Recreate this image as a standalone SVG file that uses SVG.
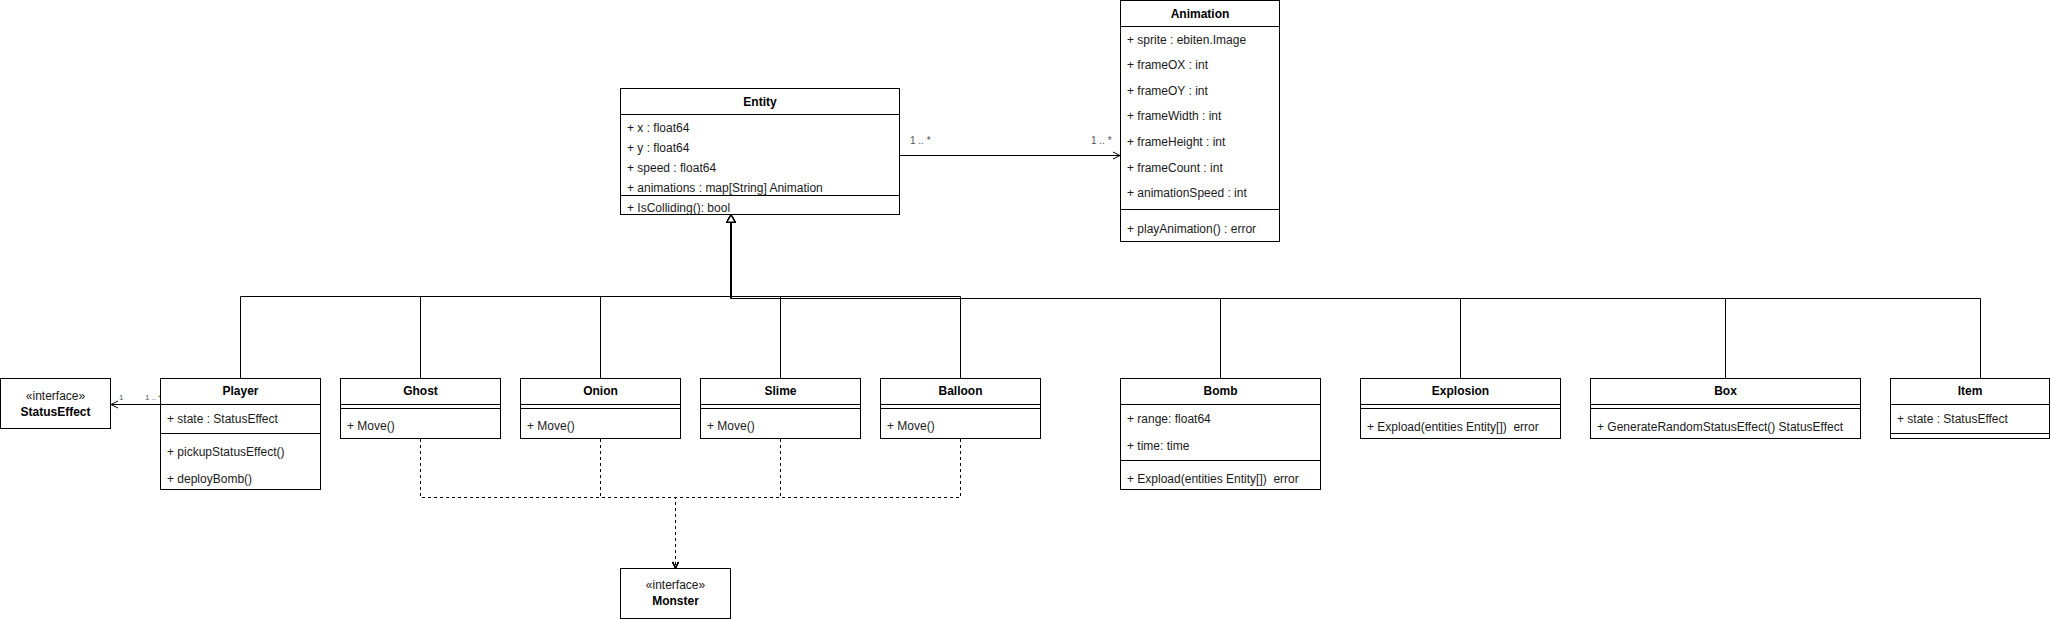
<svg xmlns="http://www.w3.org/2000/svg" width="2051" height="619" viewBox="0 0 2051 619">
<style>
.bg{fill:#fff}
.box{fill:#fff;stroke:#000;stroke-width:1}
.ln{stroke:#000;stroke-width:1;fill:none}
.ttl{font-family:"Liberation Sans",Arial,Helvetica,sans-serif;font-size:12px;font-weight:bold;fill:#000;text-anchor:middle}
.mem{font-family:"Liberation Sans",Arial,Helvetica,sans-serif;font-size:12px;fill:#1a1a1a;white-space:pre}
.st{font-family:"Liberation Sans",Arial,Helvetica,sans-serif;font-size:12px;fill:#1a1a1a;text-anchor:middle}
.lbl{font-family:"Liberation Sans",Arial,Helvetica,sans-serif;font-size:10px;fill:#555}
.lbls{font-family:"Liberation Sans",Arial,Helvetica,sans-serif;font-size:8px;fill:#555}
.edge{stroke:#000;stroke-width:1;fill:none}
.gen{marker-end:url(#gen)}
.dash{stroke-dasharray:3 3;marker-end:url(#real)}
.assoc{marker-end:url(#open)}
</style>
<defs>
<marker id="gen" markerUnits="userSpaceOnUse" viewBox="0 0 9 10" refX="8" refY="5" markerWidth="9" markerHeight="10" orient="auto">
<path d="M1,1 L8,5 L1,9 Z" fill="#fff" stroke="#000" stroke-width="1.2"/>
</marker>
<marker id="open" markerUnits="userSpaceOnUse" viewBox="0 0 9 9" refX="8" refY="4.5" markerWidth="9" markerHeight="9" orient="auto">
<path d="M1,1 L8,4.5 L1,8" fill="none" stroke="#000" stroke-width="1"/>
</marker>
<marker id="real" markerUnits="userSpaceOnUse" viewBox="0 0 8 8" refX="7" refY="4" markerWidth="8" markerHeight="8" orient="auto">
<path d="M1,1 L7,4 L1,7" fill="none" stroke="#000" stroke-width="1.2" stroke-dasharray="none"/>
</marker>
</defs>
<rect class="bg" x="0" y="0" width="2051" height="619"/>

<g id="connectors">
<path class="edge gen" d="M240.5 378 V296.5 H731 V215"/>
<path class="edge gen" d="M420.5 378 V296.5 H731 V215"/>
<path class="edge gen" d="M600.5 378 V296.5 H731 V215"/>
<path class="edge gen" d="M780.5 378 V296.5 H731 V215"/>
<path class="edge gen" d="M960.5 378 V296.5 H731 V215"/>
<path class="edge gen" d="M1220.5 378 V298.5 H731 V215"/>
<path class="edge gen" d="M1460.5 378 V298.5 H731 V215"/>
<path class="edge gen" d="M1725.5 378 V298.5 H731 V215"/>
<path class="edge gen" d="M1980.5 378 V298.5 H731 V215"/>
<path class="edge dash" d="M420.5 439 V497.5 H675.5 V568"/>
<path class="edge dash" d="M600.5 439 V497.5 H675.5 V568"/>
<path class="edge dash" d="M780.5 439 V497.5 H675.5 V568"/>
<path class="edge dash" d="M960.5 439 V497.5 H675.5 V568"/>
<path class="edge assoc" d="M900 155.5 H1120"/>
<text class="lbl" x="910" y="144">1 .. *</text>
<text class="lbl" x="1091" y="144">1 .. *</text>
<path class="edge assoc" d="M160 404.5 H111"/>
<text class="lbls" x="119" y="400">1</text>
<text class="lbls" x="145" y="400">1 .. *</text>
</g>

<g id="entity">
<rect class="box" x="620.5" y="88.5" width="279" height="126"/>
<line class="ln" x1="620.5" y1="114.5" x2="899.5" y2="114.5"/>
<text class="ttl" x="760" y="106">Entity</text>
<text class="mem" x="627" y="132">+ x : float64</text>
<text class="mem" x="627" y="152">+ y : float64</text>
<text class="mem" x="627" y="172">+ speed : float64</text>
<text class="mem" x="627" y="192">+ animations : map[String] Animation</text>
<line class="ln" x1="620.5" y1="195.5" x2="899.5" y2="195.5"/>
<text class="mem" x="627" y="212">+ IsColliding(): bool</text>
</g>

<g id="animation">
<rect class="box" x="1120.5" y="0.5" width="159" height="241"/>
<line class="ln" x1="1120.5" y1="26.5" x2="1279.5" y2="26.5"/>
<text class="ttl" x="1200" y="17.5">Animation</text>
<text class="mem" x="1127" y="44">+ sprite : ebiten.Image</text>
<text class="mem" x="1127" y="69">+ frameOX : int</text>
<text class="mem" x="1127" y="95">+ frameOY : int</text>
<text class="mem" x="1127" y="120">+ frameWidth : int</text>
<text class="mem" x="1127" y="146">+ frameHeight : int</text>
<text class="mem" x="1127" y="172">+ frameCount : int</text>
<text class="mem" x="1127" y="197">+ animationSpeed : int</text>
<line class="ln" x1="1120.5" y1="209.5" x2="1279.5" y2="209.5"/>
<text class="mem" x="1127" y="233">+ playAnimation() : error</text>
</g>

<g id="statuseffect">
<rect class="box" x="0.5" y="378.5" width="110" height="50"/>
<text class="st" x="55.5" y="400">«interface»</text>
<text class="ttl" x="55.5" y="416">StatusEffect</text>
</g>

<g id="player">
<rect class="box" x="160.5" y="378.5" width="160" height="111"/>
<line class="ln" x1="160.5" y1="404.5" x2="320.5" y2="404.5"/>
<text class="ttl" x="240.5" y="395">Player</text>
<text class="mem" x="167" y="422.5">+ state : StatusEffect</text>
<line class="ln" x1="160.5" y1="433.5" x2="320.5" y2="433.5"/>
<text class="mem" x="167" y="456">+ pickupStatusEffect()</text>
<text class="mem" x="167" y="482.5">+ deployBomb()</text>
</g>

<g id="ghost">
<rect class="box" x="340.5" y="378.5" width="160" height="60"/>
<line class="ln" x1="340.5" y1="404.5" x2="500.5" y2="404.5"/>
<line class="ln" x1="340.5" y1="408.5" x2="500.5" y2="408.5"/>
<text class="ttl" x="420.5" y="395">Ghost</text>
<text class="mem" x="347" y="430">+ Move()</text>
</g>

<g id="onion">
<rect class="box" x="520.5" y="378.5" width="160" height="60"/>
<line class="ln" x1="520.5" y1="404.5" x2="680.5" y2="404.5"/>
<line class="ln" x1="520.5" y1="408.5" x2="680.5" y2="408.5"/>
<text class="ttl" x="600.5" y="395">Onion</text>
<text class="mem" x="527" y="430">+ Move()</text>
</g>

<g id="slime">
<rect class="box" x="700.5" y="378.5" width="160" height="60"/>
<line class="ln" x1="700.5" y1="404.5" x2="860.5" y2="404.5"/>
<line class="ln" x1="700.5" y1="408.5" x2="860.5" y2="408.5"/>
<text class="ttl" x="780.5" y="395">Slime</text>
<text class="mem" x="707" y="430">+ Move()</text>
</g>

<g id="balloon">
<rect class="box" x="880.5" y="378.5" width="160" height="60"/>
<line class="ln" x1="880.5" y1="404.5" x2="1040.5" y2="404.5"/>
<line class="ln" x1="880.5" y1="408.5" x2="1040.5" y2="408.5"/>
<text class="ttl" x="960.5" y="395">Balloon</text>
<text class="mem" x="887" y="430">+ Move()</text>
</g>

<g id="bomb">
<rect class="box" x="1120.5" y="378.5" width="200" height="111"/>
<line class="ln" x1="1120.5" y1="404.5" x2="1320.5" y2="404.5"/>
<text class="ttl" x="1220.5" y="395">Bomb</text>
<text class="mem" x="1127" y="422.5">+ range: float64</text>
<text class="mem" x="1127" y="449.5">+ time: time</text>
<line class="ln" x1="1120.5" y1="460.5" x2="1320.5" y2="460.5"/>
<text class="mem" x="1127" y="482.5" xml:space="preserve">+ Expload(entities Entity[])  error</text>
</g>

<g id="explosion">
<rect class="box" x="1360.5" y="378.5" width="200" height="60"/>
<line class="ln" x1="1360.5" y1="404.5" x2="1560.5" y2="404.5"/>
<line class="ln" x1="1360.5" y1="408.5" x2="1560.5" y2="408.5"/>
<text class="ttl" x="1460.5" y="395">Explosion</text>
<text class="mem" x="1367" y="430.5" xml:space="preserve">+ Expload(entities Entity[])  error</text>
</g>

<g id="box">
<rect class="box" x="1590.5" y="378.5" width="270" height="60"/>
<line class="ln" x1="1590.5" y1="404.5" x2="1860.5" y2="404.5"/>
<line class="ln" x1="1590.5" y1="408.5" x2="1860.5" y2="408.5"/>
<text class="ttl" x="1725.5" y="395">Box</text>
<text class="mem" x="1597" y="430.5">+ GenerateRandomStatusEffect() StatusEffect</text>
</g>

<g id="item">
<rect class="box" x="1890.5" y="378.5" width="159" height="60"/>
<line class="ln" x1="1890.5" y1="404.5" x2="2049.5" y2="404.5"/>
<text class="ttl" x="1970" y="395">Item</text>
<text class="mem" x="1897" y="422.5">+ state : StatusEffect</text>
<line class="ln" x1="1890.5" y1="433.5" x2="2049.5" y2="433.5"/>
</g>

<g id="monster">
<rect class="box" x="620.5" y="568.5" width="110" height="50"/>
<text class="st" x="675.5" y="589">«interface»</text>
<text class="ttl" x="675.5" y="604.5">Monster</text>
</g>
</svg>
